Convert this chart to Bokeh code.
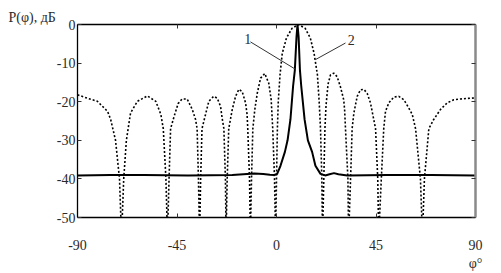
from bokeh.plotting import figure
from bokeh.models import FixedTicker, LinearAxis, Label, Range1d, Title
from bokeh.embed import file_html
from bokeh.resources import INLINE

# Curve 1 (solid): narrow beam, angle (deg) and level (dB)
x1 = [-90, -75, -60, -40, -20, -15, -10, -6, -3, -1, 0.3, 1.8, 3.8, 5.0, 6.3,
      7.5, 8.3, 9.05, 9.5, 10.0, 10.6, 11.2, 12.7, 14.2, 16.1, 17.6, 19.9,
      22, 24, 26, 28, 32, 50, 70, 90]
y1 = [-39.1, -39.0, -39.0, -39.1, -39.0, -38.8, -38.6, -38.7, -38.9, -39.0,
      -38.7, -36.6, -33.0, -30.0, -24.6, -16.0, -11.8, -3.2, 0.0, -3.2,
      -11.8, -16.0, -24.6, -30.0, -33.0, -36.6, -38.7, -39.1, -38.8, -38.5,
      -38.8, -39.1, -39.0, -39.0, -39.1]

# Curve 2 (dotted): sidelobe pattern
x2 = [-90, -85.5, -81, -76.4, -75, -72.8, -71.0, -70.1, -69.1, -67.9, -66,
      -62.9, -58.4, -54.6, -52.3, -51.2, -50.0, -49.3, -48.6, -47.9, -46.3,
      -44.5, -42.7, -40.4, -38.1, -36.6, -35.9, -35.3, -34.8, -34.3, -33.7,
      -32.1, -30.6, -28.4, -26.8, -25.3, -24.6, -23.8, -23.1, -22.8, -22.3,
      -21.6, -20.0, -18.5, -17.0, -15.5, -14.0, -13.3, -13.0, -12.2, -11.8,
      -11.3, -10.7, -9.8, -8.7, -7.2, -5.3, -3.5, -2.4, -1.7, -0.9, -0.4,
      0.0, 0.4, 0.8, 1.6, 2.6, 4.5, 7.0, 10.0, 13.0, 15.3, 17.0, 18.5, 19.3,
      19.9, 20.5, 20.8, 21.4, 21.9, 22.4, 23.3, 24.4, 25.9, 27.4, 28.9, 30.4,
      30.8, 31.2, 32.3, 32.6, 33.5, 34.2, 35.0, 36.5, 38.0, 39.5, 41.0, 42.5,
      43.7, 44.8, 45.8, 46.2, 47.4, 48.5, 49.3, 50.8, 53.1, 55.3, 57.6, 59.8,
      61.4, 62.9, 65.1, 66.0, 66.9, 68.9, 71.1, 74.2, 77.2, 80.2, 83.2, 87.7,
      90]
y2 = [-18.2, -19.1, -19.9, -22.5, -24.6, -30, -40, -55, -40, -30, -22.9,
      -19.9, -18.5, -19.9, -23.3, -27, -40, -55, -40, -27, -23.8,
      -20.5, -19.3, -19.3, -22.0, -24.6, -27, -40, -55, -40, -27,
      -23.3, -19.9, -18.6, -19.1, -21.2, -24.2, -27, -40, -55, -40,
      -27, -22.0, -18.6, -16.8, -17.4, -20.3, -23.3, -27, -40, -55,
      -40, -27, -22.0, -17.8, -13.9, -12.7, -15.2, -19.5, -27, -40, -55,
      -40, -27, -20, -13, -7.5, -3.5, -1.0, 0.0, -1.0, -3.5, -7.5, -13, -20,
      -27, -40, -55, -40, -27, -21, -15.5, -13.1, -12.6, -13.5, -16.1, -19.5,
      -22, -27, -40, -55, -40, -27, -22.9, -18.6, -16.9, -16.8, -17.8, -20.3,
      -23.8, -27, -40, -55, -40, -27, -22.5, -20.3, -18.8, -18.6, -19.5, -21.6,
      -23.3, -27, -40, -55, -40, -27, -24.6, -22.0, -20.3, -19.5, -19.3, -19.1,
      -19.0]

x_ticks = [-90, -45, 0, 45, 90]
y_ticks = [-50, -40, -30, -20, -10, 0]
x_title = "φ°"
y_title = "P(φ), дБ"

FONT = "Liberation Serif"
TXT = "#2a2a2a"

p = figure(width=501, height=273, output_backend="svg", toolbar_location=None,
           x_range=Range1d(-90, 90), y_range=Range1d(-50, 0),
           min_border_left=77, min_border_right=26, min_border_top=24,
           min_border_bottom=54)
p.grid.visible = False
p.outline_line_color = None
p.background_fill_color = "white"
p.border_fill_color = "white"

p.line(x2, y2, line_color="black", line_width=1.6, line_dash="2 2")
p.line(x1, y1, line_color="black", line_width=2.0)

def style_axis(ax, labels=True):
    ax.minor_tick_line_color = None
    ax.major_tick_in = 4
    ax.major_tick_out = 0
    ax.major_tick_line_color = "#333333"
    ax.axis_line_color = "black"
    ax.axis_line_width = 1.3
    ax.major_label_text_font = FONT
    ax.major_label_text_font_size = "14px" if labels else "0px"
    ax.major_label_text_color = TXT if labels else None
    if not labels:
        ax.major_label_standoff = 0

p.xaxis.ticker = FixedTicker(ticks=x_ticks)
p.yaxis.ticker = FixedTicker(ticks=y_ticks)
style_axis(p.xaxis[0])
style_axis(p.yaxis[0])
p.xaxis.major_label_standoff = 20
x_labels = {t: str(t) for t in x_ticks}
x_labels[x_ticks[-1]] = str(x_ticks[-1]) + "\n" + x_title
p.xaxis.major_label_overrides = x_labels
p.yaxis.major_label_overrides = {t: str(t) for t in y_ticks}
p.yaxis.major_label_standoff = 2

top = LinearAxis(ticker=FixedTicker(ticks=x_ticks))
style_axis(top, labels=False)
p.add_layout(top, "above")
right = LinearAxis(ticker=FixedTicker(ticks=y_ticks))
style_axis(right, labels=False)
right.axis_line_color = "#8a8a8a"
right.axis_line_width = 2.5
p.add_layout(right, "right")

p.add_layout(Title(text=y_title, align="left", offset=-69, standoff=0,
                   text_font=FONT, text_font_size="14px",
                   text_font_style="normal", text_color=TXT), "above")

# annotations
p.line([-11.8, 8.6], [-4.5, -11.6], line_color="#333333", line_width=1)
p.line([31.2, 17.6], [-4.8, -9.1], line_color="#333333", line_width=1)
p.add_layout(Label(x=-13.0, y=-3.8, text="1", text_font=FONT, text_font_size="14px",
                   text_color=TXT, text_align="center", text_baseline="middle"))
p.add_layout(Label(x=33.8, y=-3.9, text="2", text_font=FONT, text_font_size="14px",
                   text_color=TXT, text_align="center", text_baseline="middle"))

open("out.html", "w").write(file_html(p, INLINE))
